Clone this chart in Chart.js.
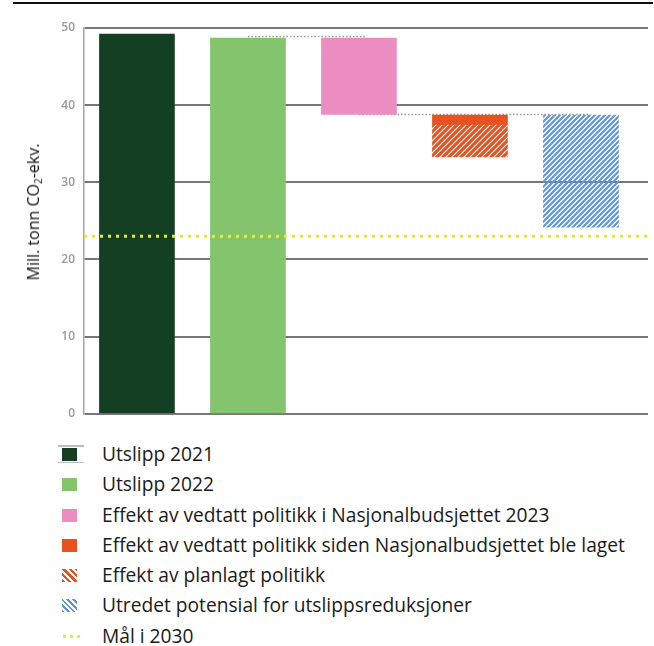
<!DOCTYPE html>
<html>
<head>
<meta charset="utf-8">
<script src="https://cdn.jsdelivr.net/npm/chart.js@4"></script>
<style>
  body { margin: 0; background: #fff; font-family: "Open Sans", sans-serif; }
  #wrap { position: relative; width: 654px; height: 646px; }
  #topline { position: absolute; left: 13px; top: 2px; width: 640px; height: 2px; background: #111; }
  #chart { position: absolute; left: 0; top: 0; }
  #ytitle { position: absolute; left: 33px; top: 212px; transform: translate(-50%, -50%) rotate(-90deg);
            white-space: nowrap; font-size: 16px; font-weight: 400; color: #111; }
  #ytitle sub { font-size: 10px; vertical-align: -3px; line-height: 0; }
  #legend { position: absolute; left: 0; top: 439px; }
  .row { position: relative; height: 30.3px; line-height: 30px; font-size: 19.2px; color: #1a1a1a; padding-left: 102px; white-space: nowrap; }
  .mk { position: absolute; left: 62px; top: 9px; width: 15px; height: 13px; }
  .mk.first::before, .mk.first::after { content: ""; position: absolute; left: -4px; width: 26px; height: 1.5px; background: #bdbdbd; }
  .mk.first::before { top: -3px; }
  .mk.first::after { bottom: -2px; }
  .dots { position: absolute; left: 63px; top: 14px; width: 20px; height: 3px;
          background: repeating-linear-gradient(90deg, #e2ea3a 0 3px, transparent 3px 7px); }
</style>
</head>
<body>
<div id="wrap">
  <canvas id="chart" width="654" height="430"></canvas>
  <div id="topline"></div>
  <div id="ytitle">Mill. tonn CO<sub>2</sub>-ekv.</div>
  <div id="legend"></div>
</div>
<script>
// categories along the x axis (bar positions)
const categories = ['2021', '2022', 'NB 2023', 'Etter NB', 'Potensial'];

// legend labels, one per series
const seriesLabels = [
  'Utslipp 2021',
  'Utslipp 2022',
  'Effekt av vedtatt politikk i Nasjonalbudsjettet 2023',
  'Effekt av vedtatt politikk siden Nasjonalbudsjettet ble laget',
  'Effekt av planlagt politikk',
  'Utredet potensial for utslippsreduksjoner',
  'Mål i 2030'
];

// series values, [from, to] for floating bars
const utslipp2021   = [[0, 49.2], null, null, null, null];
const utslipp2022   = [null, [0, 48.7], null, null, null];
const vedtattNB     = [null, null, [38.8, 48.7], null, null];
const vedtattEtter  = [null, null, null, [37.5, 38.7], null];
const planlagt      = [null, null, null, [33.3, 37.5], null];
const potensial     = [null, null, null, null, [24.2, 38.7]];
const maal2030 = 23.0;

// dotted connectors: [from category, to category, level]
const connectors = [[1, 2, 48.8], [2, 4, 38.7]];

const yTicks = [0, 10, 20, 30, 40, 50];

const colors = {
  dark: '#133f23',
  light: '#84c46d',
  pink: '#ec8dc1',
  orange: '#e8521e',
  blue: '#5f95dc',
  yellow: '#e2ea3a'
};

function hatch(color, period, width) {
  const c = document.createElement('canvas');
  c.width = c.height = period;
  const g = c.getContext('2d');
  g.strokeStyle = color;
  g.lineWidth = width;
  g.beginPath();
  g.moveTo(-1, period + 1); g.lineTo(period + 1, -1);
  g.moveTo(-period / 2, period / 2); g.lineTo(period / 2, -period / 2);
  g.moveTo(period / 2, period * 1.5); g.lineTo(period * 1.5, period / 2);
  g.stroke();
  return g.createPattern(c, 'repeat');
}

function toPoints(arr) {
  return arr.map((v, i) => (v === null ? null : { x: i, y: v })).filter(p => p);
}

const series = [
  { data: utslipp2021, bg: colors.dark },
  { data: utslipp2022, bg: colors.light },
  { data: vedtattNB, bg: colors.pink },
  { data: vedtattEtter, bg: colors.orange },
  { data: planlagt, bg: hatch(colors.orange, 6, 3.2) },
  { data: potensial, bg: hatch(colors.blue, 5, 2.2) }
];

const datasets = series.map((s, i) => ({
  label: seriesLabels[i],
  data: toPoints(s.data),
  backgroundColor: s.bg,
  borderWidth: 0
}));

// reference lines drawn through the chart's own scales
const refLines = {
  id: 'refLines',
  beforeDatasetsDraw(chart) {
    const { ctx, scales: { x, y } } = chart;
    ctx.save();
    ctx.strokeStyle = '#9a9a9a';
    ctx.lineWidth = 1.5;
    ctx.setLineDash([1.5, 2]);
    connectors.forEach(([a, b, v]) => {
      const py = Math.round(y.getPixelForValue(v)) - 0.5;
      ctx.beginPath();
      ctx.moveTo(x.getPixelForValue(a), py);
      ctx.lineTo(x.getPixelForValue(b) + 8, py);
      ctx.stroke();
    });
    ctx.restore();
  },
  afterDatasetsDraw(chart) {
    const { ctx, chartArea, scales: { y } } = chart;
    const py = y.getPixelForValue(maal2030);
    ctx.save();
    ctx.strokeStyle = colors.yellow;
    ctx.lineWidth = 3;
    ctx.setLineDash([3, 5]);
    ctx.beginPath();
    ctx.moveTo(chartArea.left, py);
    ctx.lineTo(chartArea.right, py);
    ctx.stroke();
    ctx.restore();
  }
};

new Chart(document.getElementById('chart'), {
  type: 'bar',
  data: { datasets },
  options: {
    responsive: false,
    animation: false,
    layout: { padding: { top: 28, bottom: 7, right: 6, left: 0 } },
    plugins: { legend: { display: false }, tooltip: { enabled: false } },
    datasets: { bar: { grouped: false, barThickness: 75 } },
    scales: {
      x: { type: 'linear', offset: false, min: -0.477, max: 4.604, display: false },
      y: {
        min: yTicks[0],
        max: yTicks[yTicks.length - 1],
        afterFit(scale) { scale.width = 84; },
        afterBuildTicks(scale) { scale.ticks = yTicks.map(v => ({ value: v })); },
        ticks: {
          color: '#9a9a9a',
          padding: 9,
          font: { family: 'Open Sans', size: 12, weight: '600' }
        },
        grid: { color: '#777', lineWidth: 2, drawTicks: false },
        border: { color: '#a5a5a5', width: 1.5 }
      }
    }
  },
  plugins: [refLines]
});

// HTML legend built from the same labels
const legendFills = [
  colors.dark, colors.light, colors.pink, colors.orange,
  `repeating-linear-gradient(45deg, ${colors.orange} 0 2.5px, #fff 2.5px 4.5px)`,
  `repeating-linear-gradient(45deg, ${colors.blue} 0 1.8px, #fff 1.8px 4px)`
];
const legend = document.getElementById('legend');
seriesLabels.forEach((label, i) => {
  const row = document.createElement('div');
  row.className = 'row';
  const mk = document.createElement('div');
  if (i < legendFills.length) {
    mk.className = 'mk' + (i === 0 ? ' first' : '');
    mk.style.background = legendFills[i];
  } else {
    mk.className = 'dots';
  }
  row.appendChild(mk);
  row.appendChild(document.createTextNode(label));
  legend.appendChild(row);
});
</script>
</body>
</html>
